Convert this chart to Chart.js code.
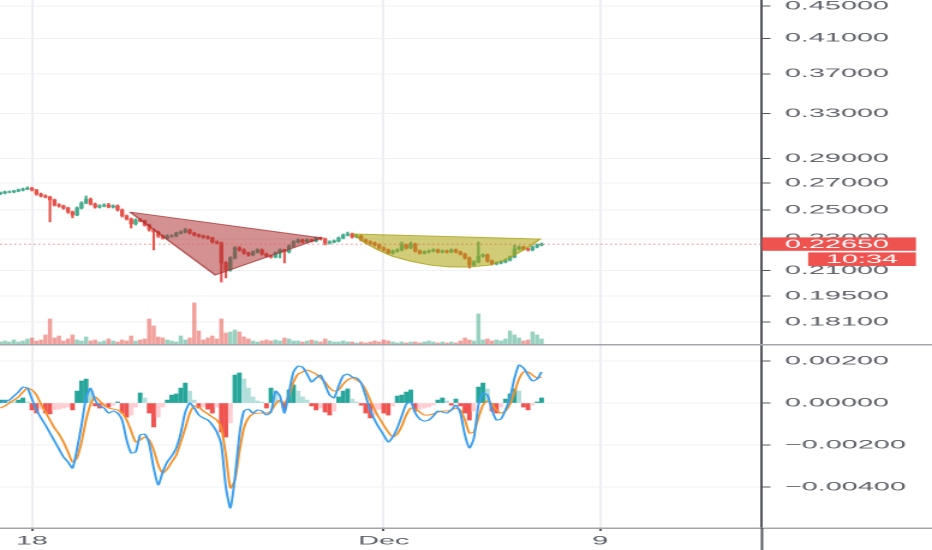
<!DOCTYPE html>
<html>
<head>
<meta charset="utf-8">
<title>Price with MACD</title>
<script src="https://cdn.jsdelivr.net/npm/chart.js@4.4.1/dist/chart.umd.min.js"></script>
<style>
  html, body { margin: 0; padding: 0; background: #fff; }
  #stage { position: relative; width: 932px; height: 550px; overflow: hidden; background: #fff; }
  /* the source picture is a screenshot stretched sideways, so the charts are drawn narrow and widened */
  #stage canvas { position: absolute; left: 0; transform-origin: 0 0; transform: scaleX(2.40206); }
  #priceCanvas { top: 0; }
  #macdCanvas { top: 344px; }
</style>
</head>
<body>
<div id="stage">
  <canvas id="priceCanvas" width="388" height="344"></canvas>
  <canvas id="macdCanvas" width="388" height="206"></canvas>
</div>
<script>
(function () {
  'use strict';

  // ── Data (4h candles, x in days from Nov 18 00:00) ────────────────

  var FIRST_CANDLE_DAY = -7 / 6;   // Nov 16, 20:00
  var CANDLE_DAYS = 4 / 24;
  var FIRST_OPEN = 0.2620;

  var CLOSES = [
    0.2625, 0.2633, 0.2633, 0.2640, 0.2648, 0.2656, 0.2663, 0.2648, 0.2618, 0.2603,
    0.2595, 0.2573, 0.2536, 0.2529, 0.2514, 0.2485, 0.2464, 0.2514, 0.2551, 0.2580,
    0.2543, 0.2521, 0.2529, 0.2536, 0.2521, 0.2529, 0.2500, 0.2457, 0.2436, 0.2401,
    0.2429, 0.2422, 0.2394, 0.2360, 0.2346, 0.2319, 0.2306, 0.2319, 0.2319, 0.2339,
    0.2346, 0.2360, 0.2339, 0.2326, 0.2319, 0.2313, 0.2306, 0.2280, 0.2273, 0.2146,
    0.2103, 0.2177, 0.2241, 0.2228, 0.2208, 0.2196, 0.2215, 0.2228, 0.2202, 0.2189,
    0.2183, 0.2208, 0.2228, 0.2215, 0.2253, 0.2280, 0.2293, 0.2280, 0.2293, 0.2286,
    0.2306, 0.2299, 0.2273, 0.2280, 0.2286, 0.2306, 0.2326, 0.2333, 0.2313, 0.2319,
    0.2293, 0.2280, 0.2273, 0.2260, 0.2241, 0.2228, 0.2208, 0.2221, 0.2228, 0.2260,
    0.2241, 0.2266, 0.2221, 0.2208, 0.2215, 0.2221, 0.2228, 0.2215, 0.2221, 0.2215,
    0.2228, 0.2215, 0.2202, 0.2177, 0.2133, 0.2152, 0.2189, 0.2196, 0.2158, 0.2140,
    0.2146, 0.2152, 0.2164, 0.2183, 0.2234, 0.2247, 0.2234, 0.2228, 0.2247, 0.2260,
    0.2265
  ];

  var HIGHS = [
    0.2633, 0.2640, 0.2641, 0.2646, 0.2655, 0.2663, 0.2672, 0.2669, 0.2653, 0.2625,
    0.2611, 0.2601, 0.2580, 0.2545, 0.2535, 0.2520, 0.2492, 0.2522, 0.2560, 0.2603,
    0.2588, 0.2550, 0.2538, 0.2545, 0.2548, 0.2536, 0.2536, 0.2507, 0.2464, 0.2443,
    0.2437, 0.2440, 0.2428, 0.2400, 0.2368, 0.2352, 0.2326, 0.2327, 0.2328, 0.2346,
    0.2355, 0.2372, 0.2366, 0.2345, 0.2333, 0.2325, 0.2320, 0.2312, 0.2287, 0.2280,
    0.2155, 0.2185, 0.2250, 0.2249, 0.2235, 0.2214, 0.2222, 0.2236, 0.2234, 0.2208,
    0.2195, 0.2215, 0.2235, 0.2233, 0.2260, 0.2288, 0.2300, 0.2299, 0.2300, 0.2299,
    0.2313, 0.2312, 0.2305, 0.2288, 0.2293, 0.2313, 0.2333, 0.2346, 0.2339, 0.2327,
    0.2325, 0.2300, 0.2287, 0.2280, 0.2267, 0.2248, 0.2234, 0.2228, 0.2235, 0.2280,
    0.2267, 0.2280, 0.2272, 0.2228, 0.2222, 0.2228, 0.2235, 0.2234, 0.2228, 0.2227,
    0.2235, 0.2234, 0.2221, 0.2208, 0.2183, 0.2160, 0.2280, 0.2203, 0.2202, 0.2165,
    0.2153, 0.2159, 0.2171, 0.2190, 0.2260, 0.2254, 0.2253, 0.2241, 0.2254, 0.2267,
    0.2273
  ];

  var LOWS = [
    0.2613, 0.2618, 0.2626, 0.2627, 0.2634, 0.2641, 0.2650, 0.2640, 0.2608, 0.2596,
    0.2588, 0.2415, 0.2528, 0.2520, 0.2505, 0.2476, 0.2443, 0.2458, 0.2507, 0.2545,
    0.2536, 0.2513, 0.2514, 0.2522, 0.2515, 0.2514, 0.2492, 0.2449, 0.2428, 0.2373,
    0.2394, 0.2415, 0.2386, 0.2352, 0.2228, 0.2310, 0.2298, 0.2299, 0.2311, 0.2313,
    0.2332, 0.2340, 0.2332, 0.2319, 0.2311, 0.2305, 0.2298, 0.2273, 0.2265, 0.2031,
    0.2055, 0.2095, 0.2170, 0.2220, 0.2200, 0.2188, 0.2190, 0.2208, 0.2195, 0.2182,
    0.2176, 0.2177, 0.2177, 0.2146, 0.2208, 0.2246, 0.2273, 0.2273, 0.2274, 0.2279,
    0.2280, 0.2292, 0.2260, 0.2266, 0.2274, 0.2280, 0.2300, 0.2320, 0.2306, 0.2307,
    0.2286, 0.2273, 0.2266, 0.2253, 0.2234, 0.2221, 0.2201, 0.2202, 0.2214, 0.2222,
    0.2234, 0.2235, 0.2214, 0.2201, 0.2202, 0.2209, 0.2215, 0.2208, 0.2209, 0.2208,
    0.2209, 0.2208, 0.2195, 0.2170, 0.2115, 0.2127, 0.2146, 0.2182, 0.2151, 0.2133,
    0.2134, 0.2140, 0.2146, 0.2158, 0.2177, 0.2228, 0.2227, 0.2221, 0.2222, 0.2241,
    0.2254
  ];

  // volume, millions
  var VOLUMES = [
    0.2, 0.3, 0.2, 0.4, 0.2, 0.3, 0.5, 0.6, 0.3, 0.4,
    0.9, 2.5, 0.6, 0.8, 0.3, 0.5, 0.9, 0.4, 0.3, 0.7,
    0.3, 0.4, 0.2, 0.3, 0.5, 0.3, 0.2, 0.4, 0.3, 0.8,
    0.3, 0.4, 0.5, 2.5, 1.8, 0.7, 0.6, 0.4, 0.3, 0.2,
    0.8, 0.4, 0.6, 4.1, 1.3, 0.4, 0.6, 0.8, 0.5, 2.5,
    1.1, 1.2, 1.4, 1.2, 0.7, 0.5, 0.3, 0.2, 0.3, 0.4,
    0.3, 0.4, 0.3, 0.6, 0.5, 0.3, 0.3, 0.2, 0.3, 0.4,
    0.3, 0.2, 0.5, 0.3, 0.2, 0.2, 0.3, 0.2, 0.2, 0.1,
    0.2, 0.1, 0.2, 0.3, 0.2, 0.4, 0.3, 0.2, 0.1, 0.2,
    0.1, 0.2, 0.2, 0.1, 0.2, 0.3, 0.2, 0.1, 0.2, 0.1,
    0.2, 0.1, 0.3, 0.6, 0.4, 0.3, 3.0, 0.4, 0.5, 0.3,
    0.4, 0.3, 0.5, 1.3, 0.9, 0.6, 0.3, 0.4, 1.2, 0.9,
    0.5
  ];

  var MACD_LINE = [
    0.00000, 0.00010, 0.00014, 0.00033, 0.00052, 0.00076, 0.00071, 0.00019, -0.00033, -0.00071,
    -0.00105, -0.00143, -0.00181, -0.00219, -0.00257, -0.00281, -0.00310, -0.00219, -0.00105, 0.00024,
    0.00071, 0.00014, -0.00014, -0.00024, -0.00048, -0.00038, -0.00048, -0.00081, -0.00176, -0.00238,
    -0.00233, -0.00152, -0.00148, -0.00195, -0.00310, -0.00390, -0.00329, -0.00281, -0.00252, -0.00214,
    -0.00143, -0.00043, 0.00000, -0.00024, -0.00057, -0.00071, -0.00081, -0.00105, -0.00138, -0.00200,
    -0.00400, -0.00500, -0.00357, -0.00152, -0.00038, -0.00029, -0.00048, -0.00033, -0.00038, -0.00057,
    -0.00043, 0.00057, 0.00033, -0.00048, 0.00052, 0.00148, 0.00176, 0.00171, 0.00138, 0.00100,
    0.00119, 0.00133, 0.00086, 0.00038, 0.00024, 0.00081, 0.00129, 0.00138, 0.00124, 0.00119,
    0.00095, 0.00033, -0.00033, -0.00081, -0.00119, -0.00152, -0.00186, -0.00162, -0.00119, -0.00062,
    -0.00005, 0.00005, -0.00048, -0.00076, -0.00086, -0.00081, -0.00062, -0.00038, -0.00043, -0.00048,
    -0.00033, -0.00010, -0.00048, -0.00152, -0.00214, -0.00167, -0.00010, 0.00048, 0.00038, -0.00033,
    -0.00081, -0.00076, -0.00033, 0.00024, 0.00119, 0.00181, 0.00167, 0.00133, 0.00105, 0.00114,
    0.00148
  ];

  var SIGNAL_LINE = [
    -0.00024, -0.00014, 0.00000, 0.00014, 0.00029, 0.00052, 0.00071, 0.00062, 0.00038, -0.00005,
    -0.00043, -0.00081, -0.00119, -0.00148, -0.00186, -0.00233, -0.00281, -0.00262, -0.00186, -0.00081,
    -0.00005, 0.00029, 0.00010, -0.00010, -0.00024, -0.00029, -0.00033, -0.00048, -0.00081, -0.00133,
    -0.00186, -0.00176, -0.00162, -0.00176, -0.00224, -0.00295, -0.00333, -0.00314, -0.00281, -0.00248,
    -0.00186, -0.00119, -0.00048, -0.00014, -0.00019, -0.00038, -0.00052, -0.00067, -0.00081, -0.00119,
    -0.00248, -0.00405, -0.00367, -0.00233, -0.00119, -0.00071, -0.00052, -0.00048, -0.00048, -0.00048,
    -0.00038, -0.00005, 0.00014, 0.00000, 0.00038, 0.00100, 0.00138, 0.00148, 0.00157, 0.00148,
    0.00138, 0.00119, 0.00100, 0.00071, 0.00057, 0.00062, 0.00090, 0.00110, 0.00119, 0.00110,
    0.00095, 0.00062, 0.00014, -0.00033, -0.00071, -0.00105, -0.00138, -0.00162, -0.00148, -0.00110,
    -0.00057, -0.00024, -0.00029, -0.00043, -0.00057, -0.00057, -0.00052, -0.00043, -0.00038, -0.00038,
    -0.00033, -0.00024, -0.00033, -0.00081, -0.00143, -0.00138, -0.00071, -0.00010, 0.00010, -0.00005,
    -0.00033, -0.00048, -0.00038, -0.00005, 0.00052, 0.00114, 0.00148, 0.00148, 0.00133, 0.00119,
    0.00124
  ];

  var HISTOGRAM = [
    0.00014, 0.00014, 0.00010, 0.00005, 0.00014, 0.00024, 0.00005, -0.00033, -0.00048, -0.00029,
    -0.00048, -0.00052, -0.00033, -0.00029, -0.00024, -0.00019, -0.00033, 0.00057, 0.00105, 0.00114,
    0.00057, -0.00014, -0.00024, -0.00019, -0.00019, -0.00010, 0.00005, -0.00048, -0.00067, -0.00057,
    -0.00019, 0.00048, 0.00024, -0.00048, -0.00114, -0.00067, -0.00019, 0.00014, 0.00038, 0.00043,
    0.00071, 0.00095, 0.00057, 0.00014, -0.00024, -0.00019, -0.00029, -0.00048, -0.00019, -0.00138,
    -0.00162, -0.00095, 0.00133, 0.00143, 0.00114, 0.00071, 0.00029, 0.00010, 0.00005, -0.00024,
    0.00071, 0.00057, 0.00014, -0.00029, 0.00062, 0.00086, 0.00057, 0.00029, 0.00014, -0.00014,
    -0.00033, -0.00024, -0.00043, -0.00057, -0.00038, 0.00029, 0.00057, 0.00067, 0.00019, 0.00005,
    -0.00010, -0.00048, -0.00071, -0.00057, -0.00029, -0.00048, -0.00057, -0.00014, 0.00033, 0.00038,
    0.00052, 0.00062, -0.00038, -0.00029, -0.00024, -0.00019, -0.00010, 0.00014, 0.00024, 0.00010,
    -0.00010, 0.00019, -0.00014, -0.00048, -0.00081, -0.00038, 0.00076, 0.00095, 0.00067, -0.00038,
    -0.00048, -0.00019, 0.00019, 0.00043, 0.00067, 0.00057, -0.00019, -0.00033, -0.00010, 0.00005,
    0.00024
  ];

  // drawings: (day, price) vertices
  var TRIANGLE_DAYS   = [3.62, 10.71, 6.77, 3.62];
  var TRIANGLE_PRICES = [0.2485, 0.2306, 0.2073, 0.2485];

  var CUP_DAYS   = [11.87, 12.31, 12.79, 13.31, 13.97, 14.71, 15.45, 16.19, 16.93, 17.48, 17.96, 18.41, 18.78, 11.87];
  var CUP_PRICES = [0.2333, 0.2273, 0.2228, 0.2189, 0.2158, 0.2133, 0.2121, 0.2121, 0.2133, 0.2164, 0.2208, 0.2253, 0.2299, 0.2333];

  // axes
  var X_MIN = -1.18;
  var X_MAX = 26.98;
  var X_TICKS = [0, 13, 21];
  var X_TICK_LABELS = ['18', 'Dec', '9'];

  var PRICE_MIN = 0.1699;
  var PRICE_MAX = 0.4578;
  var PRICE_TICKS = [0.181, 0.195, 0.21, 0.23, 0.25, 0.27, 0.29, 0.33, 0.37, 0.41, 0.45];

  var MACD_MIN = -0.00595;
  var MACD_MAX = 0.00281;
  var MACD_TICKS = [-0.004, -0.002, 0, 0.002];

  var VOLUME_MAX = 34.4;
  var COUNTDOWN = '10:34';

  // ── Styles ────────────────────────────────────────────────────────

  var UP = '#45ab8c';
  var DOWN = '#e5534b';
  var VOL_UP = 'rgba(69,171,140,0.55)';
  var VOL_DOWN = 'rgba(229,83,75,0.55)';
  var HIST_UP = '#26a69a', HIST_UP_FADE = '#b2dfdb';
  var HIST_DOWN = '#ef5350', HIST_DOWN_FADE = '#ffcdd2';
  var MACD_BLUE = '#3a9ef0';
  var SIGNAL_ORANGE = '#f5922a';
  var TAG_RED = '#ef5350';

  var TEXT = '#5d6067';
  var AXIS = '#55585f';
  var GRID_H = '#eff1f4';
  var GRID_V = '#eceef2';
  var PANE_LINE = '#a3a6ad';
  var FONT_FAMILY = '"Liberation Sans", Arial, sans-serif';
  var FONT = { family: FONT_FAMILY, size: 12 };

  var STRETCH = 932 / 388;
  var AXIS_WIDTH = 388 - 762 / STRETCH;

  // ── Derived series ────────────────────────────────────────────────

  var candleX = CLOSES.map(function (c, i) { return FIRST_CANDLE_DAY + i * CANDLE_DAYS; });
  var opens = CLOSES.map(function (c, i) { return i === 0 ? FIRST_OPEN : CLOSES[i - 1]; });
  var isUp = CLOSES.map(function (c, i) { return c >= opens[i]; });
  var lastPrice = CLOSES[CLOSES.length - 1];

  function points(xs, ys) {
    return xs.map(function (x, i) { return { x: x, y: ys[i] }; });
  }

  function histColor(i) {
    var v = HISTOGRAM[i];
    var prev = i ? HISTOGRAM[i - 1] : 0;
    if (v >= 0) return v >= prev ? HIST_UP : HIST_UP_FADE;
    return v <= prev ? HIST_DOWN : HIST_DOWN_FADE;
  }

  // ── Shared scale helpers ──────────────────────────────────────────

  function setTicks(values) {
    return function (scale) {
      scale.ticks = values.map(function (v) { return { value: v }; });
    };
  }

  function fixYAxis(scale) {
    scale.width = AXIS_WIDTH;
    scale.paddingTop = 0;
    scale.paddingBottom = 0;
  }

  function fixXAxis(height) {
    return function (scale) {
      scale.height = height;
      scale.paddingLeft = 0;
      scale.paddingRight = 0;
    };
  }

  function macdLabel(v) {
    var n = Number(v);
    return n < 0 ? '\u2212' + Math.abs(n).toFixed(5) : Math.abs(n).toFixed(5);
  }

  var baseOptions = {
    responsive: false,
    devicePixelRatio: 2,
    animation: false,
    events: [],
    layout: { padding: 0 },
    plugins: { legend: { display: false }, tooltip: { enabled: false } }
  };

  // ── Price pane ────────────────────────────────────────────────────

  var priceTag = {
    id: 'priceTag',
    afterDraw: function (chart) {
      var ctx = chart.ctx;
      var area = chart.chartArea;
      var y = chart.scales.y.getPixelForValue(lastPrice);
      ctx.save();
      ctx.fillStyle = TAG_RED;
      ctx.fillRect(area.right, y - 6.8, 64.1, 13.4);
      ctx.fillRect(area.right + 19.2, y + 8.2, 44.9, 13.6);
      ctx.fillStyle = '#ffffff';
      ctx.font = '12px ' + FONT_FAMILY;
      ctx.textBaseline = 'middle';
      ctx.textAlign = 'left';
      ctx.fillText(lastPrice.toFixed(5), area.right + 9.5, y + 0.5);
      ctx.textAlign = 'center';
      ctx.fillText(COUNTDOWN, area.right + 41.6, y + 15.3);
      ctx.restore();
    }
  };

  new Chart(document.getElementById('priceCanvas'), {
    type: 'line',
    data: {
      datasets: [
        {
          type: 'line',
          data: [{ x: X_MIN, y: lastPrice }, { x: X_MAX, y: lastPrice }],
          borderColor: 'rgba(239,83,80,0.75)',
          borderWidth: 0.8,
          borderDash: [0.8, 1.2],
          pointRadius: 0,
          order: 0
        },
        {
          type: 'line',
          data: points(TRIANGLE_DAYS, TRIANGLE_PRICES),
          borderColor: 'rgba(165,45,45,0.7)',
          borderWidth: 1,
          backgroundColor: 'rgba(170,45,45,0.52)',
          fill: 'shape',
          pointRadius: 0,
          tension: 0,
          order: 1
        },
        {
          type: 'line',
          data: points(CUP_DAYS, CUP_PRICES),
          borderColor: 'rgba(170,160,20,0.8)',
          borderWidth: 1,
          backgroundColor: 'rgba(172,162,10,0.55)',
          fill: 'shape',
          pointRadius: 0,
          tension: 0,
          order: 1
        },
        {
          type: 'bar',
          data: candleX.map(function (x, i) { return { x: x, y: [opens[i], CLOSES[i]] }; }),
          backgroundColor: isUp.map(function (u) { return u ? UP : DOWN; }),
          barThickness: 1.05,
          grouped: false,
          borderWidth: 0,
          order: 2
        },
        {
          type: 'bar',
          data: candleX.map(function (x, i) { return { x: x, y: [LOWS[i], HIGHS[i]] }; }),
          backgroundColor: isUp.map(function (u) { return u ? UP : DOWN; }),
          barThickness: 0.4,
          grouped: false,
          borderWidth: 0,
          order: 3
        },
        {
          type: 'bar',
          yAxisID: 'yv',
          data: points(candleX, VOLUMES),
          backgroundColor: isUp.map(function (u) { return u ? VOL_UP : VOL_DOWN; }),
          barThickness: 1.1,
          grouped: false,
          borderWidth: 0,
          order: 4
        }
      ]
    },
    options: Object.assign({}, baseOptions, {
      scales: {
        x: {
          type: 'linear', min: X_MIN, max: X_MAX, offset: false,
          afterBuildTicks: setTicks(X_TICKS),
          afterFit: fixXAxis(0),
          ticks: { display: false },
          grid: { color: GRID_V, drawTicks: false, offset: false },
          border: { display: false }
        },
        y: {
          type: 'logarithmic', position: 'right', min: PRICE_MIN, max: PRICE_MAX,
          afterBuildTicks: setTicks(PRICE_TICKS),
          afterFit: fixYAxis,
          ticks: {
            autoSkip: false, padding: 6, color: TEXT, font: FONT,
            callback: function (v) { return Number(v).toFixed(5); }
          },
          grid: { color: GRID_H, tickColor: AXIS, tickLength: 3.5 },
          border: { color: AXIS, width: 1 }
        },
        yv: { type: 'linear', display: false, min: 0, max: VOLUME_MAX }
      }
    }),
    plugins: [priceTag]
  });

  // ── MACD pane ─────────────────────────────────────────────────────

  var paneFrame = {
    id: 'paneFrame',
    afterDraw: function (chart) {
      var ctx = chart.ctx;
      var area = chart.chartArea;
      ctx.save();
      ctx.fillStyle = PANE_LINE;
      ctx.fillRect(0, 0, chart.width, 1.5);
      ctx.fillRect(0, area.bottom - 0.5, chart.width, 1.5);
      ctx.fillStyle = AXIS;
      ctx.fillRect(area.right - 0.5, area.bottom, 1, chart.height - area.bottom);
      ctx.restore();
    }
  };

  new Chart(document.getElementById('macdCanvas'), {
    type: 'line',
    data: {
      datasets: [
        {
          type: 'line',
          data: points(candleX, MACD_LINE),
          borderColor: MACD_BLUE,
          borderWidth: 1,
          pointRadius: 0,
          tension: 0.2,
          order: 0
        },
        {
          type: 'line',
          data: points(candleX, SIGNAL_LINE),
          borderColor: SIGNAL_ORANGE,
          borderWidth: 1,
          pointRadius: 0,
          tension: 0.2,
          order: 1
        },
        {
          type: 'bar',
          data: points(candleX, HISTOGRAM),
          backgroundColor: HISTOGRAM.map(function (v, i) { return histColor(i); }),
          barThickness: 1.3,
          grouped: false,
          borderWidth: 0,
          order: 2
        }
      ]
    },
    options: Object.assign({}, baseOptions, {
      scales: {
        x: {
          type: 'linear', min: X_MIN, max: X_MAX, offset: false,
          afterBuildTicks: setTicks(X_TICKS),
          afterFit: fixXAxis(22),
          ticks: {
            autoSkip: false, maxRotation: 0, padding: 3, color: TEXT, font: FONT,
            callback: function (v, i) { return X_TICK_LABELS[i]; }
          },
          grid: { color: GRID_V, tickColor: AXIS, tickLength: 3, offset: false },
          border: { display: false }
        },
        y: {
          type: 'linear', position: 'right', min: MACD_MIN, max: MACD_MAX,
          afterBuildTicks: setTicks(MACD_TICKS),
          afterFit: fixYAxis,
          ticks: { autoSkip: false, padding: 6, color: TEXT, font: FONT, callback: macdLabel },
          grid: { color: GRID_H, tickColor: AXIS, tickLength: 3.5 },
          border: { color: AXIS, width: 1 }
        }
      }
    }),
    plugins: [paneFrame]
  });
})();
</script>
</body>
</html>
